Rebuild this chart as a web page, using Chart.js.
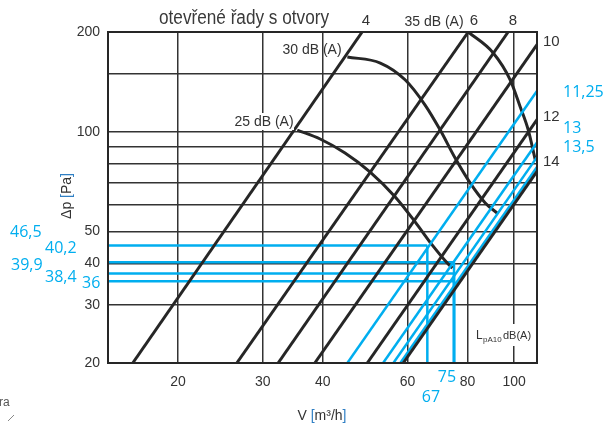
<!DOCTYPE html>
<html>
<head>
<meta charset="utf-8">
<script src="https://cdn.jsdelivr.net/npm/chart.js@4.4.1/dist/chart.umd.min.js"></script>
<style>
  body { margin: 0; background: #fff; }
  #chart { display: block; }
</style>
</head>
<body>
<canvas id="chart" width="612" height="430"></canvas>
<script>
// Δp / V diagram - otevřené řady s otvory

// black lines: V [m3/h] where each one crosses 20 Pa and 200 Pa
const lineNames = ['4', '6', '8', '10', '12', '14'];
const lineV20 = [16.1, 26.5, 32.3, 38.5, 49.5, 58.8];
const lineV200 = [48.3, 80.3, 97.2, 116.4, 149.6, 177.8];

// blue lines, same way
const blueNames = ['11,25', '13', '13,5', ''];
const blueV20 = [45.0, 53.4, 56.1, 58.0];
const blueV200 = [135.9, 161.5, 169.5, 175.2];

// noise curves LpA10
const curve25V = [35.4, 39.5, 44.5, 50.2, 56.6, 62.3, 67.6, 72.6, 74.4];
const curve25P = [101.1, 95.0, 86.2, 75.5, 63.5, 53.3, 45.4, 40.1, 38.7];
const curve30V = [45.0, 52.7, 59.4, 65.3, 70.2, 75.4, 81.0, 87.1, 92.7];
const curve30P = [168.1, 161.2, 143.2, 120.3, 101.1, 83.2, 70.0, 60.9, 56.4];
const curve35V = [80.3, 90.5, 98.2, 103.0, 107.0, 110.7];
const curve35P = [200, 172.9, 143.2, 118.7, 101.2, 82.1];

// read-off points (blue)
const readV = [66, 75, 75, 75];
const readP = [45.3, 40.3, 37.3, 35.3];
const readTextP = ['46,5', '40,2', '39,9', '38,4', '36'];
const readTextV = ['67', '75'];

const xGrid = [20, 30, 40, 60, 80, 100];
const xTickLabels = [20, 30, 40, 60, 80, 100];
const yGrid = [20, 30, 40, 50, 60, 70, 80, 90, 100, 150, 200];
const yTickLabels = [20, 30, 40, 50, 100, 200];

const xMin = 14.3, xMax = 111.6, yMin = 20, yMax = 200;

const black = '#262626';
const blue = '#00aeef';
const gray = '#333333';

const datasets = [];

lineNames.forEach((n, i) => {
    datasets.push({
        label: n,
        data: [{ x: lineV20[i], y: 20 }, { x: lineV200[i], y: 200 }],
        borderColor: black,
        borderWidth: 3
    });
});

blueNames.forEach((n, i) => {
    datasets.push({
        label: n,
        data: [{ x: blueV20[i], y: 20 }, { x: blueV200[i], y: 200 }],
        borderColor: blue,
        borderWidth: 2.5
    });
});

const curves = [[curve25V, curve25P], [curve30V, curve30P], [curve35V, curve35P]];
curves.forEach(([vs, ps]) => {
    datasets.push({
        data: vs.map((v, i) => ({ x: v, y: ps[i] })),
        borderColor: black,
        borderWidth: 3,
        cubicInterpolationMode: 'monotone'
    });
});

readV.forEach((v, i) => {
    // horizontal from the axis, vertical down to the axis
    datasets.push({
        data: [{ x: xMin * 0.99, y: readP[i] }, { x: v, y: readP[i] }],
        borderColor: blue,
        borderWidth: 2.5
    });
    datasets.push({
        data: [{ x: v, y: 20 }, { x: v, y: readP[i] }],
        borderColor: blue,
        borderWidth: 2.5
    });
});

datasets.forEach(d => {
    d.showLine = true;
    d.pointRadius = 0;
    d.clip = 0;
    d.fill = false;
});

function txt(ctx, s, x, y, font, color, align) {
    ctx.font = font;
    ctx.fillStyle = color;
    ctx.textAlign = align || 'center';
    ctx.textBaseline = 'middle';
    ctx.fillText(s, x, y);
}

const textPlugin = {
    id: 'texts',
    afterDraw(chart) {
        const ctx = chart.ctx;
        const a = chart.chartArea;
        ctx.save();

        // frame
        ctx.strokeStyle = black;
        ctx.lineWidth = 2;
        ctx.strokeRect(a.left, a.top, a.right - a.left, a.bottom - a.top);

        // title, squeezed like a narrow font
        ctx.font = '20px "Liberation Sans", sans-serif';
        const t = 'otevřené řady s otvory';
        const w = ctx.measureText(t).width;
        ctx.save();
        ctx.translate(244, 18);
        ctx.scale(170 / w, 1);
        txt(ctx, t, 0, 0, '20px "Liberation Sans", sans-serif', '#3a3a3a');
        ctx.restore();

        const f14 = '14px "Liberation Sans", sans-serif';
        const f15 = '15px "Liberation Sans", sans-serif';

        // dB labels
        ctx.fillStyle = '#fff';
        ctx.fillRect(234, 113, 60, 17);
        txt(ctx, '25 dB (A)', 264, 122, f14, gray);
        txt(ctx, '30 dB (A)', 312, 50, f14, gray);
        txt(ctx, '35 dB (A)', 434, 22, f14, gray);

        // line numbers
        txt(ctx, '4', 366, 21, f15, gray);
        txt(ctx, '6', 474, 21, f15, gray);
        txt(ctx, '8', 513, 21, f15, gray);
        txt(ctx, '10', 543, 42, f15, gray, 'left');
        txt(ctx, '12', 543, 117, f15, gray, 'left');
        txt(ctx, '14', 543, 162, f15, gray, 'left');

        // blue line names
        const fb = '16px "Open Sans", sans-serif';
        txt(ctx, blueNames[0], 563, 92, fb, blue, 'left');
        txt(ctx, blueNames[1], 563, 128, fb, blue, 'left');
        txt(ctx, blueNames[2], 563, 147, fb, blue, 'left');

        // read-off values
        txt(ctx, readTextP[0], 10, 232, fb, blue, 'left');
        txt(ctx, readTextP[1], 45, 248, fb, blue, 'left');
        txt(ctx, readTextP[2], 11, 265, fb, blue, 'left');
        txt(ctx, readTextP[3], 45, 277, fb, blue, 'left');
        txt(ctx, readTextP[4], 82, 283, fb, blue, 'left');
        txt(ctx, readTextV[1], 447, 377, fb, blue);
        txt(ctx, readTextV[0], 431, 397, fb, blue);

        // LpA10 box
        ctx.fillStyle = '#fff';
        ctx.fillRect(473, 324, 62, 22);
        ctx.textBaseline = 'alphabetic';
        ctx.textAlign = 'left';
        ctx.fillStyle = gray;
        ctx.font = '12px "Liberation Sans", sans-serif';
        ctx.fillText('L', 476, 339);
        ctx.font = '8px "Liberation Sans", sans-serif';
        ctx.fillText('pA10', 483, 342);
        ctx.font = '11px "Liberation Sans", sans-serif';
        ctx.fillText('dB(A)', 503, 339);

        // axis titles
        ctx.save();
        ctx.translate(67, 196);
        ctx.rotate(-Math.PI / 2);
        ctx.font = f14;
        ctx.textBaseline = 'middle';
        ctx.textAlign = 'left';
        let parts = [['Δp ', gray], ['[', '#2f7fc4'], ['Pa', gray], [']', '#2f7fc4']];
        let total = parts.reduce((s, p) => s + ctx.measureText(p[0]).width, 0);
        let px = -total / 2;
        parts.forEach(p => { ctx.fillStyle = p[1]; ctx.fillText(p[0], px, 0); px += ctx.measureText(p[0]).width; });
        ctx.restore();

        ctx.font = f14;
        ctx.textBaseline = 'middle';
        ctx.textAlign = 'left';
        parts = [['V ', gray], ['[', '#2f7fc4'], ['m³/h', gray], [']', '#2f7fc4']];
        total = parts.reduce((s, p) => s + ctx.measureText(p[0]).width, 0);
        px = 322 - total / 2;
        parts.forEach(p => { ctx.fillStyle = p[1]; ctx.fillText(p[0], px, 416); px += ctx.measureText(p[0]).width; });

        // clipped leftover on the left
        txt(ctx, 'ra', -1, 403, '12px "Liberation Sans", sans-serif', '#555', 'left');
        ctx.strokeStyle = '#888';
        ctx.lineWidth = 1;
        ctx.beginPath();
        ctx.moveTo(8, 421);
        ctx.lineTo(14, 415);
        ctx.stroke();

        ctx.restore();
    }
};

new Chart(document.getElementById('chart'), {
    type: 'scatter',
    data: { datasets: datasets },
    options: {
        responsive: false,
        animation: false,
        events: [],
        layout: { padding: { top: 32, right: 75, left: 0, bottom: 0 } },
        plugins: { legend: { display: false }, tooltip: { enabled: false } },
        scales: {
            x: {
                type: 'logarithmic',
                min: xMin,
                max: xMax,
                afterBuildTicks: s => { s.ticks = xGrid.map(v => ({ value: v })); },
                afterFit: s => { s.height = 67; },
                ticks: {
                    autoSkip: false,
                    maxRotation: 0,
                    padding: 11,
                    color: gray,
                    font: { family: 'Liberation Sans', size: 14 },
                    callback: v => xTickLabels.includes(v) ? String(v) : ''
                },
                grid: { color: gray, lineWidth: 1.5, drawTicks: false },
                border: { display: false }
            },
            y: {
                type: 'logarithmic',
                min: yMin,
                max: yMax,
                afterBuildTicks: s => { s.ticks = yGrid.map(v => ({ value: v })); },
                afterFit: s => { s.width = 108; },
                ticks: {
                    autoSkip: false,
                    padding: 8,
                    color: gray,
                    font: { family: 'Liberation Sans', size: 14 },
                    callback: v => yTickLabels.includes(v) ? String(v) : ''
                },
                grid: { color: gray, lineWidth: 1.5, drawTicks: false },
                border: { display: false }
            }
        }
    },
    plugins: [textPlugin]
});
</script>
</body>
</html>
